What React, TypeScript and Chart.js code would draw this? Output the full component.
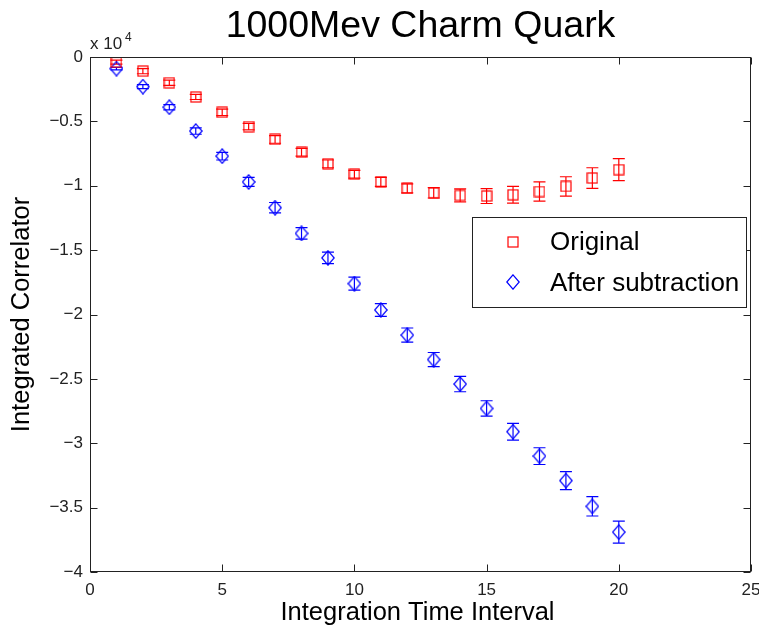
import React, { useEffect, useRef } from 'react';
import { Chart, registerables } from 'chart.js';

Chart.register(...registerables);

// values are in units of 10^4
const intervals = [1, 2, 3, 4, 5, 6, 7, 8, 9, 10, 11, 12, 13, 14, 15, 16, 17, 18, 19, 20];
const originalValues = [-0.04, -0.11, -0.2, -0.31, -0.43, -0.54, -0.64, -0.74, -0.83, -0.91, -0.97, -1.02, -1.055, -1.075, -1.08, -1.07, -1.045, -1.005, -0.94, -0.875];
const originalErrors = [0.015, 0.02, 0.02, 0.02, 0.025, 0.025, 0.03, 0.03, 0.03, 0.03, 0.035, 0.035, 0.04, 0.05, 0.058, 0.065, 0.075, 0.075, 0.08, 0.085];
const subtractedValues = [-0.09, -0.23, -0.39, -0.575, -0.77, -0.97, -1.17, -1.37, -1.56, -1.76, -1.965, -2.16, -2.35, -2.54, -2.73, -2.91, -3.1, -3.29, -3.49, -3.69];
const subtractedErrors = [0.01, 0.015, 0.02, 0.025, 0.03, 0.035, 0.04, 0.045, 0.045, 0.05, 0.05, 0.055, 0.055, 0.06, 0.06, 0.065, 0.065, 0.07, 0.075, 0.085];
const xTicks = [0, 5, 10, 15, 20, 25];
const yTicks = [0, -0.5, -1, -1.5, -2, -2.5, -3, -3.5, -4];
const seriesNames = ['Original', 'After subtraction'];
const titleText = '1000Mev Charm Quark';
const xTitle = 'Integration Time Interval';
const yTitle = 'Integrated Correlator';

const FONT = '"Liberation Sans", Arial, Helvetica, sans-serif';
const RED = '#ff0000';
const BLUE = '#0000ff';

function makeSquare(color: string) {
  const c = document.createElement('canvas');
  c.width = 12; c.height = 12;
  const ctx = c.getContext('2d')!;
  ctx.strokeStyle = color; ctx.lineWidth = 1.2;
  ctx.strokeRect(1, 1, 10, 10);
  return c;
}
function makeDiamond(color: string) {
  const c = document.createElement('canvas');
  c.width = 14; c.height = 16;
  const ctx = c.getContext('2d')!;
  ctx.strokeStyle = color; ctx.lineWidth = 1.2;
  ctx.beginPath();
  ctx.moveTo(7, 0.8); ctx.lineTo(13.2, 8); ctx.lineTo(7, 15.2); ctx.lineTo(0.8, 8); ctx.closePath();
  ctx.stroke();
  return c;
}

function fmt(v: number) {
  if (v === 0) return '0';
  return (v < 0 ? '\u2212' : '') + String(Math.abs(v));
}

export default function App() {
  const ref = useRef<HTMLCanvasElement | null>(null);
  useEffect(() => {
    document.body.style.margin = '0';
    const square = makeSquare(RED);
    const diamond = makeDiamond(BLUE);
    const errs = [originalErrors, subtractedErrors];
    const colors = [RED, BLUE];

    const decor = {
      id: 'decor',
      beforeDatasetsDraw(chart: any) {
        const { ctx } = chart;
        const ys = chart.scales.y;
        ctx.save();
        ctx.lineWidth = 1.2;
        chart.data.datasets.forEach((ds: any, di: number) => {
          const meta = chart.getDatasetMeta(di);
          ctx.strokeStyle = colors[di];
          meta.data.forEach((pt: any, i: number) => {
            const v = ds.data[i].y;
            const e = errs[di][i];
            const x = pt.x;
            const y1 = ys.getPixelForValue(v + e);
            const y2 = ys.getPixelForValue(v - e);
            ctx.beginPath();
            ctx.moveTo(x, y1); ctx.lineTo(x, y2);
            ctx.moveTo(x - 6, y1); ctx.lineTo(x + 6, y1);
            ctx.moveTo(x - 6, y2); ctx.lineTo(x + 6, y2);
            ctx.stroke();
          });
        });
        ctx.restore();
      },
      afterDraw(chart: any) {
        const { ctx, chartArea: a } = chart;
        const xs = chart.scales.x;
        const ys = chart.scales.y;
        ctx.save();
        ctx.strokeStyle = '#222';
        ctx.lineWidth = 1;
        const L = Math.round(a.left) + 0.5, R = Math.round(a.right) - 0.5;
        const T = Math.round(a.top) + 0.5, B = Math.round(a.bottom) - 0.5;
        ctx.strokeRect(L, T, R - L, B - T);
        ctx.beginPath();
        xTicks.forEach((v) => {
          const px = Math.round(xs.getPixelForValue(v)) + 0.5;
          ctx.moveTo(px, B); ctx.lineTo(px, B - 7);
          ctx.moveTo(px, T); ctx.lineTo(px, T + 7);
        });
        yTicks.forEach((v) => {
          const py = Math.round(ys.getPixelForValue(v)) + 0.5;
          ctx.moveTo(L, py); ctx.lineTo(L + 7, py);
          ctx.moveTo(R, py); ctx.lineTo(R - 7, py);
        });
        ctx.stroke();

        // texts
        ctx.fillStyle = '#000';
        ctx.textAlign = 'center';
        ctx.textBaseline = 'alphabetic';
        ctx.font = `37.5px ${FONT}`;
        ctx.fillText(titleText, (a.left + a.right) / 2, 37);
        ctx.font = `25.5px ${FONT}`;
        ctx.fillText(xTitle, (a.left + a.right) / 2 - 3, 620);
        ctx.save();
        ctx.translate(29, (a.top + a.bottom) / 2);
        ctx.rotate(-Math.PI / 2);
        ctx.fillText(yTitle, 0, 0);
        ctx.restore();
        ctx.textAlign = 'left';
        ctx.font = `17px ${FONT}`;
        ctx.fillStyle = '#222';
        ctx.fillText('x 10', a.left, 49);
        ctx.font = `12px ${FONT}`;
        ctx.fillText('4', a.left + 35, 41);

        // legend
        const lx = 472.5, ly = 217.5, lw = 274, lh = 90;
        ctx.fillStyle = '#fff';
        ctx.fillRect(lx, ly, lw, lh);
        ctx.strokeStyle = '#222';
        ctx.strokeRect(lx, ly, lw, lh);
        ctx.drawImage(square, 507, 236);
        ctx.drawImage(diamond, 506, 274);
        ctx.fillStyle = '#000';
        ctx.font = `26px ${FONT}`;
        ctx.fillText(seriesNames[0], 550, 250);
        ctx.fillText(seriesNames[1], 550, 291);
        ctx.restore();
      },
    };

    const chart = new Chart(ref.current!, {
      type: 'scatter',
      data: {
        datasets: [
          {
            label: seriesNames[0],
            data: intervals.map((x, i) => ({ x, y: originalValues[i] })),
            pointStyle: square as any,
            borderColor: RED,
            backgroundColor: RED,
            showLine: false,
          },
          {
            label: seriesNames[1],
            data: intervals.map((x, i) => ({ x, y: subtractedValues[i] })),
            pointStyle: diamond as any,
            borderColor: BLUE,
            backgroundColor: BLUE,
            showLine: false,
          },
        ],
      },
      options: {
        responsive: false,
        animation: false,
        events: [],
        layout: { padding: { top: 57, right: 8, left: 0, bottom: 0 } },
        plugins: { legend: { display: false }, title: { display: false }, tooltip: { enabled: false } },
        scales: {
          x: {
            type: 'linear',
            min: 0,
            max: 25,
            afterBuildTicks: (s: any) => { s.ticks = xTicks.map((v) => ({ value: v })); },
            afterFit: (s: any) => { s.height = 57; s.paddingLeft = 0; s.paddingRight = 0; },
            ticks: { font: { family: FONT, size: 17 }, color: '#222', padding: 8, callback: (v: any) => fmt(Number(v)), maxRotation: 0, autoSkip: false },
            grid: { display: false, drawTicks: false },
            border: { display: false },
          },
          y: {
            type: 'linear',
            min: -4,
            max: 0,
            afterBuildTicks: (s: any) => { s.ticks = yTicks.map((v) => ({ value: v })); },
            afterFit: (s: any) => { s.width = 90; s.paddingTop = 0; s.paddingBottom = 0; },
            ticks: { font: { family: FONT, size: 17 }, color: '#222', padding: 7, callback: (v: any) => fmt(Number(v)), autoSkip: false },
            grid: { display: false, drawTicks: false },
            border: { display: false },
          },
        },
      },
      plugins: [decor],
    });
    return () => chart.destroy();
  }, []);

  return <canvas ref={ref} width={759} height={629} style={{ display: 'block', width: 759, height: 629 }} />;
}
